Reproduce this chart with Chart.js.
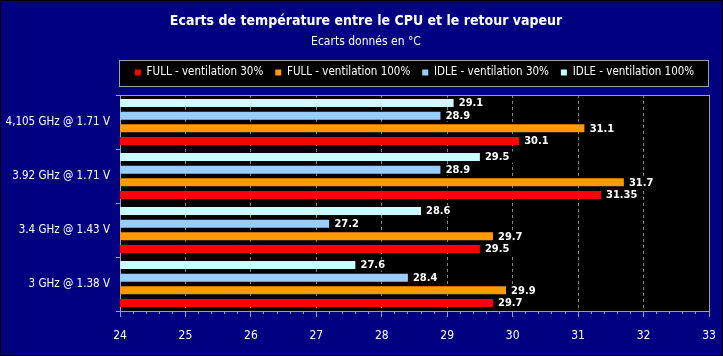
<!DOCTYPE html>
<html><head><meta charset="utf-8">
<script src="https://cdn.jsdelivr.net/npm/chart.js@4"></script>
<style>html,body{margin:0;padding:0;background:#000080;}canvas{display:block}</style>
</head><body>
<canvas id="c" width="723" height="356"></canvas>
<script>
// ---- data ----
const categories = ['4,105 GHz @ 1.71 V', '3.92 GHz @ 1.71 V', '3.4 GHz @ 1.43 V', '3 GHz @ 1.38 V'];
const fullVent30  = [30.1, 31.35, 29.5, 29.7];
const fullVent100 = [31.1, 31.7, 29.7, 29.9];
const idleVent30  = [28.9, 28.9, 27.2, 28.4];
const idleVent100 = [29.1, 29.5, 28.6, 27.6];
const seriesNames = ['FULL - ventilation 30%', 'FULL - ventilation 100%', 'IDLE - ventilation 30%', 'IDLE - ventilation 100%'];
const titleText = 'Ecarts de température entre le CPU et le retour vapeur';
const subtitleText = 'Ecarts donnés en °C';
const xMin = 24, xMax = 33;

// ---- styles ----
const FONT = "'DejaVu Sans Condensed', 'DejaVu Sans', sans-serif";
const AXIS = '#a0a0a0';
const GRID = '#808080';
const NAVY = '#000080';
const LEG_PAD = 12, LEG_FONT = 11.5;

Chart.defaults.font.family = FONT;
Chart.defaults.color = '#ffffff';

const bgPlugin = {
  id: 'bg',
  beforeDraw(chart) {
    const {ctx, chartArea: a, width, height} = chart;
    ctx.save();
    ctx.fillStyle = NAVY; ctx.fillRect(0, 0, width, height);
    ctx.fillStyle = '#000'; ctx.fillRect(a.left, a.top, a.right - a.left, a.bottom - a.top);
    const lg = chart.legend;
    if (lg) {
      const cy = lg.top + LEG_PAD + LEG_FONT / 2;
      const top = Math.round(cy - 13), bottom = Math.round(cy + 14);
      ctx.fillStyle = '#000';
      ctx.fillRect(a.left - 1, top, a.right - a.left + 1, bottom - top);
      ctx.strokeStyle = AXIS; ctx.lineWidth = 1;
      ctx.strokeRect(a.left - 0.5, top + 0.5, a.right - a.left, bottom - top - 1);
    }
    ctx.strokeStyle = '#000'; ctx.lineWidth = 1;
    ctx.strokeRect(0.5, 0.5, width - 1, height - 1);
    ctx.restore();
  }
};

const valuePlugin = {
  id: 'values',
  afterDatasetsDraw(chart) {
    const ctx = chart.ctx;
    ctx.save();
    ctx.font = "bold 11px " + FONT;
    ctx.textBaseline = 'middle'; ctx.textAlign = 'left';
    chart.data.datasets.forEach((ds, i) => {
      const meta = chart.getDatasetMeta(i);
      meta.data.forEach((el, j) => {
        const txt = String(ds.data[j]);
        const w = ctx.measureText(txt).width;
        ctx.fillStyle = '#000';
        ctx.fillRect(el.x, el.y - 5.5, w + 9, 11);
        ctx.fillStyle = '#fff';
        ctx.fillText(txt, el.x + 5, el.y + 0.5);
      });
    });
    ctx.restore();
  }
};

const mk = (label, data, color) => ({
  label, data, backgroundColor: color, borderWidth: 0,
  categoryPercentage: 0.938, barPercentage: 0.632
});

new Chart(document.getElementById('c'), {
  type: 'bar',
  data: {
    labels: categories,
    datasets: [
      mk(seriesNames[3], idleVent100, '#ccffff'),
      mk(seriesNames[2], idleVent30, '#99ccff'),
      mk(seriesNames[1], fullVent100, '#ff9900'),
      mk(seriesNames[0], fullVent30, '#ff0000')
    ]
  },
  options: {
    indexAxis: 'y',
    responsive: false,
    animation: false,
    devicePixelRatio: 1,
    layout: { padding: { left: 0, right: -9, top: 0, bottom: 0 } },
    plugins: {
      title: { display: true, text: titleText, color: '#fff',
        font: { size: 14, weight: 'bold', family: FONT }, padding: { top: 12.6, bottom: 0 } },
      subtitle: { display: true, text: subtitleText, color: '#fff',
        font: { size: 12, family: FONT }, padding: { top: 5.4, bottom: 5.55 } },
      legend: {
        display: true, position: 'top', fullSize: false, reverse: true,
        labels: { boxWidth: 6, boxHeight: 6, padding: LEG_PAD, color: '#fff',
          font: { size: LEG_FONT, family: FONT } }
      },
      tooltip: { enabled: false }
    },
    scales: {
      y: {
        type: 'category', position: 'left',
        afterFit(s) { s.width = 120; },
        grid: { drawOnChartArea: false, color: AXIS, tickColor: AXIS, tickLength: 4, offset: true },
        border: { color: AXIS },
        ticks: { color: '#fff', font: { size: 11.5, family: FONT }, padding: 6 }
      },
      x: {
        type: 'linear', position: 'bottom', min: xMin, max: xMax, weight: 0,
        afterFit(s) { s.height = 45; },
        grid: { color: GRID, tickColor: AXIS, tickLength: 6, tickBorderDash: [] },
        border: { color: AXIS, dash: [3, 3] },
        ticks: { stepSize: 1, color: '#fff', font: { size: 12, family: FONT, lineHeight: 2.2 }, padding: 6, autoSkip: false, maxRotation: 0 }
      },
      xMinor: {
        type: 'linear', position: 'bottom', min: xMin, max: xMax, weight: -1,
        afterFit(s) { s.height = 0; },
        grid: { drawOnChartArea: false, color: AXIS, tickColor: AXIS, tickLength: 3 },
        border: { display: false },
        ticks: { stepSize: 0.2, display: false, autoSkip: false }
      },
      xTop: {
        type: 'linear', position: 'top', min: xMin, max: xMax,
        afterFit(s) { s.height = 6.75; },
        grid: { display: false },
        border: { color: AXIS },
        ticks: { display: false }
      },
      yRight: {
        type: 'linear', position: 'right',
        afterFit(s) { s.width = 23; },
        grid: { display: false },
        border: { color: AXIS },
        ticks: { display: false }
      }
    }
  },
  plugins: [bgPlugin, valuePlugin]
});
</script>
</body></html>
